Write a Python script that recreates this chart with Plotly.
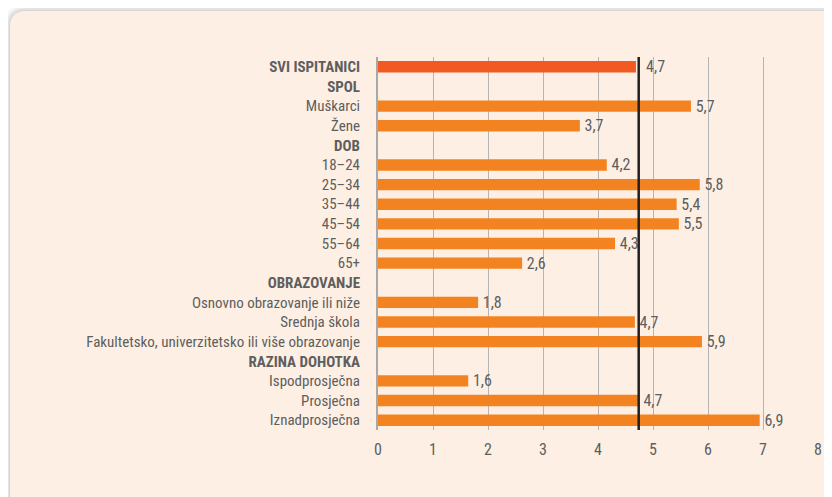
import plotly.graph_objects as go

# rows top-to-bottom; headers carry no value
LABELS = [
    "SVI ISPITANICI", "SPOL", "Muškarci", "Žene", "DOB",
    "18–24", "25–34", "35–44", "45–54", "55–64", "65+",
    "OBRAZOVANJE", "Osnovno obrazovanje ili niže", "Srednja škola",
    "Fakultetsko, univerzitetsko ili više obrazovanje",
    "RAZINA DOHOTKA", "Ispodprosječna", "Prosječna", "Iznadprosječna",
]
HEADERS = {"SVI ISPITANICI", "SPOL", "DOB", "OBRAZOVANJE", "RAZINA DOHOTKA"}
VALUES = [
    4.69, None, 5.69, 3.67, None,
    4.16, 5.85, 5.43, 5.47, 4.31, 2.62,
    None, 1.82, 4.67, 5.89,
    None, 1.64, 4.74, 6.94,
]
AVERAGE = 4.74
X_TICKS = [0, 1, 2, 3, 4, 5, 6, 7, 8]

COLORS = {"total": "#F15A22", "group": "#F38320"}
GREY = "#5E5E5E"
CARD = "#FDEFE3"
FONT = "Liberation Sans Narrow, Roboto Condensed, Roboto, sans-serif"

# page body adds an 8px offset, so work in figure pixels
W, H = 832, 497
OFF = 8
L, T = 378 - OFF, 57 - OFF
PLOT_R, PLOT_B = 818 - OFF, 430 - OFF
R, B = W - PLOT_R, H - PLOT_B
PW, PH = PLOT_R - L, PLOT_B - T


def px_x(p):
    return (p - L) / PW


def px_y(p):
    return (PLOT_B - p) / PH


tick_text = [f"<b>{s}</b>" if s in HEADERS else s for s in LABELS]
bar_text = []
for s, v in zip(LABELS, VALUES):
    if v is None:
        bar_text.append("")
    else:
        pad = "\u2002" if s == "SVI ISPITANICI" else "\u200a"
        bar_text.append(pad + f"{v:.1f}".replace(".", ","))
bar_colors = [COLORS["total"] if s == "SVI ISPITANICI" else COLORS["group"] for s in LABELS]

fig = go.Figure(go.Bar(
    x=VALUES, y=LABELS, orientation="h",
    marker=dict(color=bar_colors, line_width=0),
    text=bar_text, textposition="outside", cliponaxis=False, constraintext="none",
    textfont=dict(family=FONT, size=16, color=GREY),
    hoverinfo="skip",
))


def rounded_rect(x0, y0, x1, y1, r):
    rx, ry = r / PW, r / PH
    X0, X1 = px_x(x0), px_x(x1)
    Y0, Y1 = px_y(y0), px_y(y1)  # Y0 is the top edge
    return (f"M{X0},{Y1} L{X0},{Y0 - ry} Q{X0},{Y0} {X0 + rx},{Y0} "
            f"L{X1},{Y0} L{X1},{Y1} Z")


# card shadow + card
for i, a in [(7, 0.025), (5, 0.035), (3, 0.05), (1, 0.06)]:
    fig.add_shape(type="path", xref="paper", yref="paper", layer="below",
                  path=rounded_rect(10 - OFF - i, 11 - OFF - i, 900, 600, 16 + i),
                  fillcolor=f"rgba(0,0,0,{a})", line_width=0)
fig.add_shape(type="path", xref="paper", yref="paper", layer="below",
              path=rounded_rect(10 - OFF, 11 - OFF, 900, 600, 16),
              fillcolor=CARD, line_width=0)

fig.add_shape(type="line", x0=AVERAGE, x1=AVERAGE, y0=0, y1=1,
              xref="x", yref="paper", line=dict(color="#231F20", width=2.5))

fig.update_layout(
    width=W, height=H,
    margin=dict(l=L, r=R, t=T, b=B, autoexpand=False),
    paper_bgcolor="white", plot_bgcolor="rgba(0,0,0,0)",
    showlegend=False, bargap=0.42,
    font=dict(family=FONT, color=GREY),
    xaxis=dict(range=[0, 8], tickvals=X_TICKS, showgrid=True, gridcolor="#B4B4B4",
               gridwidth=1, zeroline=False, showline=False,
               tickfont=dict(size=16, color=GREY), ticklabelstandoff=8),
    yaxis=dict(categoryorder="array", categoryarray=LABELS, autorange="reversed",
               tickvals=LABELS, ticktext=tick_text, showgrid=False,
               showline=True, linecolor="#A8A8A8", linewidth=2,
               tickfont=dict(size=15, color=GREY), ticklabelstandoff=13),
)

fig.write_html("out.html")
